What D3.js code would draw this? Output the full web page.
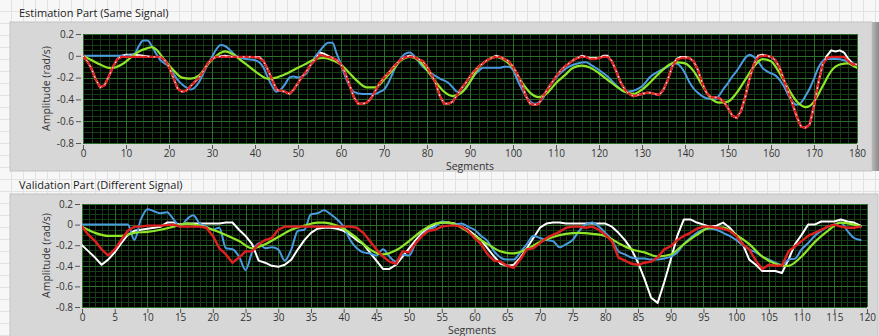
<!DOCTYPE html>
<html><head><meta charset="utf-8">
<script src="https://cdn.jsdelivr.net/npm/d3@7/dist/d3.min.js"></script>
<style>
html,body{margin:0;padding:0;background:#f4f4f4;}
svg{display:block;}
text{font-family:"Open Sans","Noto Sans",sans-serif;}
</style></head><body>
<svg id="c" width="879" height="336"></svg>
<script>
// ---------- DATA ----------
const yTicks = [0.2, 0, -0.2, -0.4, -0.6, -0.8];
const estXTicks = [0,10,20,30,40,50,60,70,80,90,100,110,120,130,140,150,160,170,180];
const valXTicks = [0,5,10,15,20,25,30,35,40,45,50,55,60,65,70,75,80,85,90,95,100,105,110,115,120];

const estRed = [[0,0],[1,-0.05],[2,-0.12],[3,-0.22],[4,-0.29],[5,-0.27],[6,-0.19],[7,-0.1],[8,-0.03],[9,-0.01],[10,-0.01],[12,-0.01],[14,-0.01],[16,-0.01],[18,-0.01],[19,-0.04],[20,-0.1],[21,-0.2],[22,-0.3],[23,-0.33],[24,-0.32],[25,-0.28],[26,-0.24],[27,-0.2],[28,-0.14],[29,-0.07],[30,-0.03],[31,-0.01],[33,-0.01],[35,-0.01],[37,-0.01],[39,-0.01],[41,-0.02],[42,-0.05],[43,-0.13],[44,-0.22],[45,-0.31],[46,-0.32],[47,-0.33],[48,-0.35],[49,-0.31],[50,-0.25],[51,-0.19],[52,-0.14],[53,-0.08],[54,-0.04],[55,0.01],[56,0.0],[57,-0.01],[58,-0.02],[59,-0.04],[60,-0.08],[61,-0.16],[62,-0.27],[63,-0.38],[64,-0.44],[65,-0.44],[66,-0.43],[67,-0.39],[68,-0.32],[69,-0.25],[70,-0.2],[71,-0.16],[72,-0.11],[73,-0.07],[74,-0.03],[75,-0.01],[76,-0.01],[77,-0.01],[78,-0.03],[79,-0.05],[80,-0.1],[81,-0.17],[82,-0.25],[83,-0.37],[84,-0.44],[85,-0.44],[86,-0.42],[87,-0.36],[88,-0.3],[89,-0.25],[90,-0.19],[91,-0.14],[92,-0.1],[93,-0.07],[94,-0.04],[95,-0.02],[96,-0.01],[97,-0.01],[98,-0.03],[99,-0.05],[100,-0.1],[101,-0.17],[102,-0.25],[103,-0.37],[104,-0.44],[105,-0.45],[106,-0.44],[107,-0.37],[108,-0.31],[109,-0.25],[110,-0.19],[111,-0.14],[112,-0.1],[113,-0.07],[114,-0.04],[115,-0.02],[116,-0.01],[117,-0.01],[118,-0.03],[119,-0.03],[120,-0.02],[121,-0.01],[122,-0.01],[123,-0.05],[124,-0.14],[125,-0.24],[126,-0.31],[127,-0.35],[128,-0.37],[129,-0.36],[130,-0.35],[131,-0.34],[132,-0.34],[133,-0.35],[134,-0.36],[135,-0.31],[136,-0.22],[137,-0.1],[138,-0.04],[139,-0.02],[140,-0.02],[141,-0.02],[142,-0.05],[143,-0.13],[144,-0.25],[145,-0.34],[146,-0.38],[147,-0.38],[148,-0.39],[149,-0.42],[150,-0.48],[151,-0.55],[152,-0.57],[153,-0.51],[154,-0.38],[155,-0.21],[156,-0.08],[157,-0.01],[158,0.0],[159,0.0],[160,-0.01],[161,-0.04],[162,-0.11],[163,-0.22],[164,-0.33],[165,-0.44],[166,-0.56],[167,-0.65],[168,-0.66],[169,-0.63],[170,-0.46],[171,-0.25],[172,-0.08],[173,-0.02],[174,-0.01],[175,-0.01],[176,-0.01],[177,-0.01],[178,-0.05],[179,-0.08],[180,-0.08]];

const estWhite = [[0,0],[1,-0.05],[2,-0.12],[3,-0.22],[4,-0.29],[5,-0.27],[6,-0.19],[7,-0.1],[8,-0.03],[9,0.0],[10,0.01],[11,0.01],[12,0.01],[14,0.0],[16,-0.01],[18,-0.01],[19,-0.04],[20,-0.1],[21,-0.2],[22,-0.3],[23,-0.33],[24,-0.32],[25,-0.28],[26,-0.24],[27,-0.2],[28,-0.14],[29,-0.07],[30,-0.03],[31,-0.01],[33,0.0],[35,-0.01],[37,-0.01],[39,-0.01],[41,-0.01],[42,-0.05],[43,-0.13],[44,-0.22],[45,-0.31],[46,-0.32],[47,-0.33],[48,-0.35],[49,-0.31],[50,-0.25],[51,-0.19],[52,-0.14],[53,-0.08],[54,-0.03],[55,0.03],[56,0.02],[57,0.0],[58,-0.02],[59,-0.04],[60,-0.08],[61,-0.16],[62,-0.27],[63,-0.38],[64,-0.44],[65,-0.44],[66,-0.43],[67,-0.39],[68,-0.32],[69,-0.25],[70,-0.2],[71,-0.16],[72,-0.11],[73,-0.07],[74,-0.03],[75,-0.01],[76,0.0],[77,-0.01],[78,-0.03],[79,-0.05],[80,-0.1],[81,-0.17],[82,-0.25],[83,-0.37],[84,-0.44],[85,-0.44],[86,-0.42],[87,-0.36],[88,-0.3],[89,-0.25],[90,-0.19],[91,-0.14],[92,-0.1],[93,-0.07],[94,-0.04],[95,-0.02],[96,0.0],[97,-0.01],[98,-0.03],[99,-0.05],[100,-0.1],[101,-0.17],[102,-0.25],[103,-0.37],[104,-0.44],[105,-0.45],[106,-0.44],[107,-0.37],[108,-0.31],[109,-0.25],[110,-0.19],[111,-0.14],[112,-0.1],[113,-0.07],[114,-0.04],[115,-0.02],[116,0.0],[117,-0.01],[118,-0.02],[119,-0.02],[120,-0.02],[121,0.0],[122,0.0],[123,-0.05],[124,-0.14],[125,-0.24],[126,-0.31],[127,-0.35],[128,-0.37],[129,-0.36],[130,-0.35],[131,-0.34],[132,-0.34],[133,-0.35],[134,-0.36],[135,-0.31],[136,-0.22],[137,-0.1],[138,-0.03],[139,-0.01],[140,-0.01],[141,-0.02],[142,-0.05],[143,-0.13],[144,-0.25],[145,-0.34],[146,-0.38],[147,-0.38],[148,-0.39],[149,-0.42],[150,-0.48],[151,-0.55],[152,-0.57],[153,-0.51],[154,-0.38],[155,-0.21],[156,-0.08],[157,0.0],[158,0.01],[159,0.0],[160,-0.01],[161,-0.04],[162,-0.11],[163,-0.22],[164,-0.33],[165,-0.44],[166,-0.56],[167,-0.65],[168,-0.66],[169,-0.63],[170,-0.46],[171,-0.25],[172,-0.08],[173,0.0],[174,0.05],[175,0.04],[176,0.05],[177,0.03],[178,-0.03],[179,-0.07],[180,-0.08]];

const estBlue = [[0,0],[2,0],[4,0],[6,0],[8,0],[10,0],[11,0.01],[12,0.02],[13,0.09],[14,0.14],[15,0.14],[16,0.09],[17,0.02],[18,-0.04],[19,-0.07],[20,-0.1],[21,-0.16],[22,-0.22],[23,-0.26],[24,-0.29],[25,-0.31],[26,-0.29],[27,-0.24],[28,-0.16],[29,-0.08],[30,-0.01],[31,0.06],[32,0.1],[33,0.09],[34,0.06],[35,0.02],[36,-0.01],[38,-0.03],[40,-0.04],[41,-0.06],[42,-0.11],[43,-0.2],[44,-0.28],[45,-0.33],[46,-0.31],[47,-0.26],[48,-0.2],[49,-0.19],[50,-0.2],[51,-0.19],[52,-0.16],[53,-0.08],[54,-0.01],[55,0.04],[56,0.09],[57,0.12],[58,0.12],[59,0.02],[60,-0.08],[61,-0.19],[62,-0.28],[63,-0.33],[65,-0.35],[67,-0.35],[68,-0.35],[69,-0.33],[70,-0.31],[71,-0.25],[72,-0.16],[73,-0.08],[74,-0.02],[75,0.02],[76,0.03],[77,0.0],[78,-0.05],[79,-0.1],[81,-0.16],[83,-0.21],[85,-0.25],[86,-0.29],[87,-0.33],[88,-0.33],[89,-0.3],[90,-0.24],[91,-0.18],[92,-0.14],[93,-0.11],[95,-0.11],[97,-0.11],[98,-0.1],[99,-0.1],[100,-0.13],[101,-0.22],[102,-0.3],[103,-0.37],[104,-0.42],[105,-0.44],[106,-0.43],[107,-0.39],[108,-0.31],[109,-0.25],[111,-0.16],[113,-0.1],[115,-0.07],[117,-0.06],[118,-0.08],[120,-0.13],[122,-0.19],[124,-0.27],[126,-0.33],[128,-0.32],[130,-0.28],[132,-0.19],[134,-0.14],[136,-0.1],[137,-0.07],[138,-0.07],[139,-0.1],[140,-0.16],[141,-0.24],[142,-0.3],[143,-0.34],[145,-0.39],[147,-0.4],[148,-0.36],[149,-0.3],[150,-0.25],[151,-0.19],[152,-0.14],[153,-0.08],[154,-0.02],[155,0.01],[156,-0.01],[157,-0.05],[158,-0.11],[159,-0.14],[160,-0.16],[161,-0.18],[162,-0.22],[163,-0.28],[164,-0.36],[165,-0.42],[166,-0.45],[167,-0.43],[168,-0.37],[169,-0.3],[170,-0.21],[171,-0.11],[172,-0.05],[173,-0.03],[175,-0.03],[177,-0.04],[178,-0.06],[180,-0.08]];

const estGreen = [[0,0],[2,-0.04],[4,-0.08],[6,-0.11],[7,-0.11],[9,-0.08],[11,-0.02],[13,0.04],[15,0.07],[16,0.08],[17,0.06],[19,-0.04],[21,-0.13],[23,-0.2],[25,-0.21],[27,-0.18],[29,-0.08],[31,0.0],[33,0.04],[35,0.01],[37,-0.05],[39,-0.11],[41,-0.17],[43,-0.21],[45,-0.2],[47,-0.17],[49,-0.13],[50,-0.11],[52,-0.07],[54,-0.03],[56,-0.02],[58,-0.04],[60,-0.08],[62,-0.16],[64,-0.24],[66,-0.29],[68,-0.29],[70,-0.22],[72,-0.13],[74,-0.04],[76,-0.01],[78,-0.04],[80,-0.13],[82,-0.24],[84,-0.33],[86,-0.37],[88,-0.34],[90,-0.24],[92,-0.11],[94,-0.04],[96,-0.01],[98,-0.04],[100,-0.11],[102,-0.24],[104,-0.34],[106,-0.38],[108,-0.34],[110,-0.25],[112,-0.18],[114,-0.11],[116,-0.09],[118,-0.11],[120,-0.16],[122,-0.22],[124,-0.28],[126,-0.33],[128,-0.35],[130,-0.31],[132,-0.24],[134,-0.16],[136,-0.09],[138,-0.06],[140,-0.07],[142,-0.14],[144,-0.27],[146,-0.39],[148,-0.43],[150,-0.42],[152,-0.34],[154,-0.22],[156,-0.1],[158,-0.03],[160,-0.05],[162,-0.16],[164,-0.3],[166,-0.42],[168,-0.47],[169,-0.46],[170,-0.42],[172,-0.28],[174,-0.14],[176,-0.08],[178,-0.07],[179,-0.09],[180,-0.11]];

const valWhite = [[0,-0.2],[1,-0.26],[2,-0.32],[3,-0.39],[4,-0.34],[5,-0.27],[6,-0.18],[7,-0.1],[8,-0.06],[9,-0.05],[10,-0.04],[11,-0.03],[12,-0.02],[13,0.02],[14,0.02],[15,0.0],[16,0.01],[17,0.01],[18,0.01],[19,0.01],[20,0.01],[21,0.01],[22,0.02],[23,0.02],[24,-0.05],[25,-0.11],[26,-0.19],[27,-0.35],[28,-0.37],[29,-0.4],[30,-0.41],[31,-0.39],[32,-0.34],[33,-0.24],[34,-0.15],[35,-0.08],[36,-0.04],[37,-0.03],[38,-0.03],[39,-0.04],[40,-0.06],[41,-0.1],[42,-0.15],[43,-0.19],[44,-0.27],[45,-0.35],[46,-0.43],[47,-0.43],[48,-0.39],[49,-0.31],[50,-0.23],[51,-0.15],[52,-0.08],[53,-0.03],[54,0.0],[55,0.02],[56,0.02],[57,0.01],[58,-0.02],[59,-0.05],[60,-0.1],[61,-0.15],[62,-0.23],[63,-0.31],[64,-0.38],[65,-0.4],[66,-0.39],[67,-0.32],[68,-0.23],[69,-0.13],[70,-0.03],[71,0.01],[72,0.02],[73,0.02],[74,0.01],[75,0.01],[76,0.01],[77,0.01],[78,0.01],[79,0.01],[80,0.01],[81,-0.02],[82,-0.08],[83,-0.15],[84,-0.24],[85,-0.37],[86,-0.53],[87,-0.71],[88,-0.76],[89,-0.56],[90,-0.34],[91,-0.11],[92,0.05],[93,0.05],[94,0.02],[95,0.0],[96,-0.02],[97,-0.01],[98,0.02],[99,-0.03],[100,-0.1],[101,-0.19],[102,-0.34],[103,-0.39],[104,-0.45],[105,-0.45],[106,-0.45],[107,-0.47],[108,-0.34],[109,-0.19],[110,-0.1],[111,0.0],[112,0.0],[113,0.03],[114,0.03],[115,0.03],[116,0.05],[117,0.03],[118,0.02],[119,-0.01]];

const valRed = [[0,-0.02],[1,-0.1],[2,-0.16],[3,-0.24],[4,-0.3],[5,-0.24],[6,-0.15],[7,-0.06],[8,-0.02],[9,-0.02],[10,-0.01],[12,-0.01],[14,0.0],[15,-0.02],[17,-0.02],[18,-0.02],[19,-0.03],[20,-0.11],[21,-0.23],[22,-0.29],[23,-0.37],[24,-0.32],[25,-0.26],[26,-0.26],[27,-0.19],[28,-0.15],[29,-0.13],[30,-0.05],[31,-0.02],[32,-0.02],[34,-0.02],[36,-0.02],[38,-0.02],[40,-0.02],[41,-0.02],[42,-0.03],[43,-0.08],[44,-0.16],[45,-0.24],[46,-0.31],[47,-0.36],[48,-0.38],[49,-0.26],[50,-0.27],[51,-0.18],[52,-0.11],[53,-0.06],[54,-0.05],[55,-0.02],[56,-0.01],[57,-0.01],[58,-0.02],[59,-0.06],[60,-0.13],[61,-0.19],[62,-0.29],[63,-0.35],[64,-0.36],[65,-0.4],[66,-0.42],[67,-0.34],[68,-0.24],[69,-0.23],[70,-0.18],[71,-0.13],[72,-0.1],[73,-0.07],[74,-0.03],[75,-0.02],[76,-0.02],[77,-0.03],[78,-0.02],[79,-0.05],[80,-0.1],[81,-0.16],[82,-0.32],[83,-0.35],[84,-0.38],[85,-0.39],[86,-0.37],[87,-0.36],[88,-0.32],[89,-0.24],[90,-0.21],[91,-0.15],[92,-0.11],[93,-0.08],[94,-0.04],[95,-0.02],[96,-0.02],[97,-0.03],[98,-0.04],[99,-0.06],[100,-0.11],[101,-0.19],[102,-0.24],[103,-0.35],[104,-0.43],[105,-0.39],[106,-0.4],[107,-0.4],[108,-0.26],[109,-0.21],[110,-0.16],[111,-0.11],[112,-0.08],[113,-0.05],[114,-0.02],[115,0.0],[116,-0.02],[117,-0.03],[118,-0.03],[119,-0.02]];

const valBlue = [[0,0.0],[7,0.0],[8,-0.15],[9,0.05],[10,0.15],[11,0.13],[12,0.11],[13,0.12],[14,0.05],[15,-0.02],[16,0.05],[17,0.09],[18,0.01],[19,-0.02],[20,-0.05],[21,-0.03],[22,-0.23],[23,-0.24],[24,-0.31],[25,-0.44],[26,-0.27],[27,-0.18],[28,-0.23],[29,-0.22],[30,-0.24],[31,-0.35],[32,-0.24],[33,-0.06],[34,-0.05],[35,0.1],[36,0.11],[37,0.14],[38,0.1],[39,0.05],[40,-0.02],[41,-0.15],[42,-0.23],[43,-0.27],[44,-0.28],[45,-0.3],[46,-0.24],[47,-0.31],[48,-0.36],[49,-0.29],[50,-0.3],[51,-0.18],[52,-0.1],[53,-0.05],[54,-0.02],[55,0.03],[56,0.02],[57,0.0],[58,0.01],[59,-0.02],[60,-0.05],[61,-0.11],[62,-0.16],[63,-0.26],[64,-0.32],[65,-0.34],[66,-0.34],[67,-0.27],[68,-0.19],[69,-0.11],[70,-0.13],[71,-0.15],[72,-0.16],[73,-0.22],[74,-0.19],[75,-0.15],[76,-0.06],[77,0.0],[78,0.02],[79,-0.02],[80,-0.08],[81,-0.15],[82,-0.26],[83,-0.29],[84,-0.32],[85,-0.33],[86,-0.33],[87,-0.34],[88,-0.34],[89,-0.33],[90,-0.31],[91,-0.27],[92,-0.19],[93,-0.13],[94,-0.08],[95,-0.05],[96,-0.04],[97,-0.05],[98,-0.08],[99,-0.11],[100,-0.15],[101,-0.2],[102,-0.24],[103,-0.27],[104,-0.31],[105,-0.34],[106,-0.37],[107,-0.39],[108,-0.34],[109,-0.33],[110,-0.24],[111,-0.18],[112,-0.11],[113,-0.06],[114,-0.02],[115,0.0],[116,0.02],[117,-0.06],[118,-0.13],[119,-0.15]];

const valGreen = [[0,-0.02],[2,-0.08],[4,-0.11],[6,-0.11],[8,-0.08],[10,-0.07],[12,-0.05],[14,-0.02],[16,0.01],[18,-0.01],[20,-0.05],[22,-0.1],[24,-0.16],[26,-0.23],[28,-0.19],[30,-0.12],[32,-0.05],[34,-0.01],[36,0.02],[37,0.02],[38,0.01],[40,-0.04],[42,-0.13],[44,-0.24],[46,-0.29],[48,-0.25],[50,-0.16],[52,-0.06],[54,0.01],[55,0.02],[56,0.02],[58,-0.03],[60,-0.11],[62,-0.19],[64,-0.26],[66,-0.28],[68,-0.24],[70,-0.17],[72,-0.12],[74,-0.09],[76,-0.08],[78,-0.09],[80,-0.11],[82,-0.18],[84,-0.24],[86,-0.27],[88,-0.31],[90,-0.29],[92,-0.19],[94,-0.1],[96,-0.03],[98,-0.03],[100,-0.1],[102,-0.19],[104,-0.31],[106,-0.38],[107,-0.4],[108,-0.4],[110,-0.31],[112,-0.17],[114,-0.06],[116,0.02],[118,0.0],[119,-0.02]];

// ---------- DRAW ----------
const svg = d3.select("#c");
const W = 879, H = 336;
const COL = {white:"#ffffff", red:"#e02020", blue:"#4a9be0", green:"#8fe628"};

const defs = svg.append("defs");
const pat = defs.append("pattern").attr("id","bg").attr("width",12).attr("height",12).attr("patternUnits","userSpaceOnUse");
pat.append("rect").attr("width",12).attr("height",12).attr("fill","#f7f7f7");
pat.append("path").attr("d","M11.5 0V12M0 11.5H12").attr("stroke","#e2e2e2").attr("stroke-width",1);
svg.append("rect").attr("width",W).attr("height",H).attr("fill","url(#bg)");
const sh = defs.append("linearGradient").attr("id","shadow").attr("x1",0).attr("x2",1);
sh.append("stop").attr("offset",0).attr("stop-color","#b8b8b8");
sh.append("stop").attr("offset",1).attr("stop-color","#8a8a8a");

function chart(cfg){
  const g = svg.append("g");
  g.append("text").attr("x",19).attr("y",cfg.titleY).attr("font-size",11).attr("fill","#222").text(cfg.title);
  g.append("rect").attr("x",10).attr("y",cfg.panelY).attr("width",cfg.panelW).attr("height",cfg.panelH).attr("fill","#d7d7d7").attr("stroke","#c4c4c4");
  if (cfg.shadow) g.append("rect").attr("x",10+cfg.panelW).attr("y",cfg.panelY).attr("width",W-10-cfg.panelW).attr("height",cfg.panelH).attr("fill","url(#shadow)");
  const x = d3.scaleLinear().domain([0,cfg.xMax]).range([cfg.l,cfg.r]);
  const y = d3.scaleLinear().domain([-0.8,0.2]).range([cfg.b,cfg.t]);
  g.append("rect").attr("x",cfg.l).attr("y",cfg.t).attr("width",cfg.r-cfg.l).attr("height",cfg.b-cfg.t).attr("fill","#000");
  const grid = g.append("g");
  const xMinor = d3.range(0, cfg.xMax+0.001, cfg.xMinor);
  const yMinor = d3.range(-0.8, 0.2001, 0.05);
  const minorC = "#163c16", majorC = "#2c6e2c";
  grid.selectAll(".vm").data(xMinor).join("line").attr("x1",d=>Math.round(x(d))+0.5).attr("x2",d=>Math.round(x(d))+0.5)
    .attr("y1",cfg.t).attr("y2",cfg.b).attr("stroke",minorC).attr("stroke-width",1);
  grid.selectAll(".hm").data(yMinor).join("line").attr("y1",d=>Math.round(y(d))+0.5).attr("y2",d=>Math.round(y(d))+0.5)
    .attr("x1",cfg.l).attr("x2",cfg.r).attr("stroke",minorC).attr("stroke-width",1);
  grid.selectAll(".vM").data(cfg.xTicks).join("line").attr("x1",d=>Math.round(x(d))+0.5).attr("x2",d=>Math.round(x(d))+0.5)
    .attr("y1",cfg.t).attr("y2",cfg.b).attr("stroke",majorC).attr("stroke-width",1);
  grid.selectAll(".hM").data(yTicks).join("line").attr("y1",d=>Math.round(y(d))+0.5).attr("y2",d=>Math.round(y(d))+0.5)
    .attr("x1",cfg.l).attr("x2",cfg.r).attr("stroke",majorC).attr("stroke-width",1);

  const fmt = d => d === 0 ? "0" : String(+d.toFixed(1));
  const ya = g.append("g").attr("transform",`translate(${cfg.l-2},0)`)
    .call(d3.axisLeft(y).tickValues(yTicks).tickFormat(fmt).tickSize(5).tickPadding(2));
  const xa = g.append("g").attr("transform",`translate(0,${cfg.b+2})`)
    .call(d3.axisBottom(x).tickValues(cfg.xTicks).tickFormat(d=>d).tickSize(4).tickPadding(1));
  [ya,xa].forEach(a=>{
    a.select(".domain").remove();
    a.selectAll("line").attr("stroke","#555");
    a.selectAll("text").attr("font-size",10).attr("fill","#333").attr("font-family",'"Open Sans","Noto Sans",sans-serif');
  });
  g.append("text").attr("transform",`translate(50,${(cfg.t+cfg.b)/2}) rotate(-90)`).attr("text-anchor","middle")
    .attr("font-size",10.5).attr("fill","#333").text("Amplitude (rad/s)");
  g.append("text").attr("x",cfg.segX).attr("y",cfg.segY).attr("text-anchor","middle").attr("font-size",10.5)
    .attr("font-family",'"Liberation Sans",Arial,sans-serif').attr("fill","#333").text("Segments");

  const clip = "clip"+cfg.id;
  defs.append("clipPath").attr("id",clip).append("rect").attr("x",cfg.l).attr("y",cfg.t).attr("width",cfg.r-cfg.l).attr("height",cfg.b-cfg.t);
  const lines = g.append("g").attr("clip-path",`url(#${clip})`);
  const lin = d3.line().x(d=>x(d[0])).y(d=>y(d[1])).curve(d3.curveLinear);
  const smooth = d3.line().x(d=>x(d[0])).y(d=>y(d[1])).curve(d3.curveMonotoneX);
  const draw = (data, col, w, gen, dash) => {
    const p = lines.append("path").datum(data).attr("d",gen).attr("fill","none").attr("stroke",col).attr("stroke-width",w)
      .attr("stroke-linejoin","round").attr("stroke-linecap","round");
    if (dash) p.attr("stroke-dasharray",dash);
  };
  draw(cfg.white, COL.white, 2, lin);
  draw(cfg.blue, COL.blue, 2, smooth);
  draw(cfg.green, COL.green, 2.2, smooth);
  draw(cfg.red, COL.red, 2.4, lin);
  if (cfg.dotted) draw(cfg.white, COL.white, 1, lin, "1 5");
}

chart({id:"est", title:"Estimation Part (Same Signal)", titleY:17, panelY:22, panelW:862, panelH:149, shadow:true,
  l:83, r:857, t:34, b:143, xMax:180, xTicks:estXTicks, xMinor:2, segX:470, segY:170,
  white:estWhite, red:estRed, blue:estBlue, green:estGreen, dotted:true});
chart({id:"val", title:"Validation Part (Different Signal)", titleY:189, panelY:194, panelW:868, panelH:150, shadow:false,
  l:82, r:867, t:204, b:307, xMax:120, xTicks:valXTicks, xMinor:1, segX:472, segY:333.6,
  white:valWhite, red:valRed, blue:valBlue, green:valGreen, dotted:false});
</script>
</body></html>
